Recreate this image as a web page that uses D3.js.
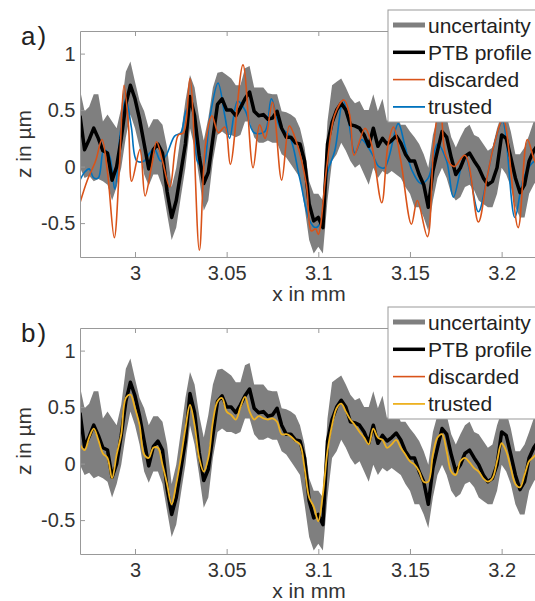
<!DOCTYPE html>
<html lang="en">
<head>
<meta charset="utf-8">
<title>PTB profile comparison</title>
<script src="https://d3js.org/d3.v7.min.js"></script>
<style>
  body { margin: 0; background: #fff; }
  svg { display: block; font-family: "Liberation Sans", Arial, sans-serif; }
  .tick text { font-size: 20px; fill: #333; }
  .axis path, .axis line { stroke: #999; }
  .lbl { font-size: 21px; fill: #333; }
  .leg { font-size: 21px; fill: #222; }
</style>
</head>
<body>
<div id="vis"></div>
<script>
// sampling grid: 2.97 .. 3.22 mm, step 0.0025 mm (101 samples)
const gridStart = 2.97, gridStep = 0.0025;

// PTB profile (z in µm)
const profile = [0.45,0.15,0.24,0.34,0.25,0.14,0.12,-0.12,0.0,0.25,0.55,0.72,0.6,0.42,0.2,-0.02,0.15,0.2,0.12,-0.22,-0.45,-0.3,-0.05,0.2,0.62,0.45,0.1,-0.15,-0.05,0.25,0.55,0.6,0.5,0.5,
  0.45,0.52,0.6,0.66,0.49,0.45,0.46,0.42,0.43,0.49,0.34,0.26,0.26,0.21,0.2,0.05,-0.33,-0.48,-0.45,-0.54,0.2,0.39,0.5,0.56,0.5,0.37,0.36,0.34,0.28,0.18,0.34,0.18,0.25,
  0.2,0.23,0.27,0.21,0.11,0.05,0.05,-0.07,-0.16,-0.36,-0.04,0.14,0.31,0.26,0.08,-0.07,-0.01,0.09,0.12,0.05,-0.01,-0.1,-0.16,-0.13,-0.01,0.28,0.25,0.08,-0.1,-0.23,-0.16,0.05,0.14,0.2];

// uncertainty band edges
const upper = [0.68,0.49,0.53,0.64,0.64,0.4,0.46,0.4,0.34,0.52,0.84,0.93,0.75,0.58,0.49,0.34,0.42,0.42,0.37,0.17,-0.18,-0.01,0.28,0.58,0.81,0.7,0.43,0.23,0.43,0.7,0.83,0.84,0.81,0.78,
  0.72,0.72,0.87,0.89,0.7,0.7,0.7,0.65,0.64,0.64,0.49,0.48,0.46,0.43,0.34,0.17,-0.13,-0.24,-0.24,-0.3,0.4,0.72,0.75,0.78,0.7,0.61,0.56,0.58,0.5,0.5,0.64,0.49,0.6,
  0.4,0.49,0.46,0.37,0.37,0.31,0.26,0.2,0.11,-0.01,0.28,0.43,0.52,0.43,0.26,0.17,0.26,0.34,0.37,0.28,0.26,0.2,0.14,0.17,0.34,0.46,0.46,0.31,0.11,0.11,0.17,0.28,0.4,0.45];
const lower = [-0.01,-0.1,-0.08,-0.13,-0.11,-0.13,-0.16,-0.3,-0.18,-0.01,0.26,0.46,0.34,0.17,-0.07,-0.17,-0.07,-0.07,-0.18,-0.42,-0.65,-0.54,-0.27,-0.01,0.34,0.17,-0.1,-0.39,-0.3,0.05,0.28,0.31,0.28,0.28,
  0.26,0.28,0.4,0.4,0.26,0.21,0.21,0.23,0.21,0.21,0.11,0.08,0.02,-0.04,-0.1,-0.36,-0.65,-0.77,-0.71,-0.77,-0.3,0.05,0.11,0.21,0.14,0.05,-0.01,0.02,-0.07,-0.16,-0.01,-0.1,-0.04,
  -0.07,-0.04,-0.07,-0.1,-0.18,-0.24,-0.36,-0.36,-0.45,-0.57,-0.3,-0.1,-0.01,-0.1,-0.24,-0.3,-0.27,-0.18,-0.16,-0.21,-0.3,-0.33,-0.36,-0.36,-0.24,-0.01,-0.07,-0.18,-0.36,-0.45,-0.45,-0.24,-0.16,-0.1];

// panel b) trusted (yellow)
const trustedB = [0.17,0.12,0.23,0.31,0.21,0.09,0.05,-0.13,0.08,0.26,0.58,0.61,0.49,0.34,0.08,0.05,0.14,0.14,-0.01,-0.18,-0.36,-0.18,0.05,0.31,0.52,0.34,0.05,-0.07,0.05,0.37,0.55,0.58,0.46,0.43,
  0.39,0.5,0.59,0.46,0.39,0.42,0.4,0.39,0.4,0.37,0.26,0.26,0.24,0.2,0.17,-0.04,-0.3,-0.38,-0.51,-0.27,0.11,0.34,0.49,0.53,0.46,0.39,0.34,0.28,0.23,0.17,0.31,0.23,0.21,
  0.14,0.17,0.21,0.14,0.08,0.02,-0.01,-0.07,-0.16,-0.16,0.08,0.23,0.26,0.11,-0.07,-0.1,0.02,0.05,0.01,-0.04,-0.07,-0.13,-0.16,-0.13,0.02,0.18,0.11,-0.04,-0.18,-0.21,-0.1,0.02,0.06,0.1];

// panel a) discarded (orange), points at turning points
const discardedX = [2.97,2.974,2.9785,2.982,2.985,2.9887,2.9915,2.994,2.9965,2.9982,3.0027,3.0055,3.009,3.0118,3.015,3.019,3.0236,3.0265,3.03,3.0351,3.0385,3.042,3.0455,3.049,3.052,
  3.0589,3.0644,3.068,3.071,3.075,3.08,3.0842,3.088,3.0935,3.0962,3.0985,3.1,3.1046,3.109,3.114,3.1171,3.1195,3.1255,3.129,3.1346,3.138,3.141,3.145,3.1508,3.154,3.1595,
  3.163,3.1665,3.1695,3.174,3.18,3.1873,3.192,3.196,3.2008,3.209,3.214,3.218,3.22];
const discardedZ = [-0.32,-0.12,0.05,0.24,-0.05,-0.63,0.0,0.72,0.35,-0.13,0.15,-0.26,0.0,0.22,0.05,-0.18,0.28,0.3,0.78,-0.74,0.2,0.45,0.3,0.35,0.02,
  0.9,-0.01,0.37,0.25,0.57,-0.12,0.36,0.22,-0.16,-0.57,-0.55,-0.6,0.0,0.46,0.59,0.46,0.1,0.34,0.2,-0.32,0.19,0.35,0.05,-0.51,-0.3,-0.62,
  0.2,0.6,0.1,0.0,0.1,-0.49,-0.1,0.2,0.42,-0.54,0.24,0.05,0.0];

// panel a) trusted (blue)
const trustedX = [2.97,2.9725,2.975,2.9775,2.98,2.983,2.986,2.989,2.992,2.995,2.998,3.001,3.005,3.008,3.0105,3.014,3.017,3.0216,3.025,3.028,3.031,3.034,3.037,3.041,3.0453,3.049,
  3.0516,3.056,3.06,3.065,3.0708,3.0744,3.079,3.084,3.0898,3.0953,3.0985,3.101,3.105,3.109,3.1135,3.1165,3.12,3.1237,3.126,3.1298,3.133,3.1362,3.1436,3.147,3.151,
  3.156,3.16,3.165,3.17,3.1737,3.18,3.1873,3.192,3.196,3.2005,3.2072,3.212,3.218,3.22];
const trustedZ = [-0.12,-0.05,-0.02,-0.1,-0.1,0.15,0.1,-0.2,0.3,0.6,0.35,0.05,0.05,0.12,0.16,0.05,0.1,0.27,0.3,0.5,0.55,0.05,0.0,0.45,0.74,0.45,
  0.25,0.58,0.5,0.3,0.31,0.6,0.35,0.28,-0.1,-0.48,-0.54,-0.5,-0.05,0.14,0.59,0.4,0.12,0.24,0.2,0.1,0.0,-0.01,0.38,0.2,-0.03,
  -0.15,-0.1,0.2,0.05,-0.27,0.09,-0.4,-0.1,0.2,0.4,-0.45,-0.1,0.05,0.05];

const xTicks = [3, 3.05, 3.1, 3.15, 3.2];
const yTicks = [-0.5, 0, 0.5, 1];
const legendNames = ["uncertainty", "PTB profile", "discarded", "trusted"];
const panelLabels = ["a)", "b)"];

const width = 535, height = 601;
const plotH = 226;
const panelTops = [31, 328];

const svg = d3.select("#vis").append("svg")
  .attr("width", width).attr("height", height);

const x = d3.scaleLinear().domain([2.97, 3.22]).range([80, 538.3]);

const grid = profile.map((d, i) => ({
  x: gridStart + i * gridStep, p: d, hi: upper[i], lo: lower[i], tb: trustedB[i]
}));
const disc = discardedX.map((d, i) => ({x: d, z: discardedZ[i]}));
const trus = trustedX.map((d, i) => ({x: d, z: trustedZ[i]}));

const colors = {band: "#7f7f7f", prof: "#000", disc: "#d95319", trustA: "#0072bd", trustB: "#edb120"};

panelTops.forEach((top, k) => {
  const bottom = top + plotH;
  const y = d3.scaleLinear().domain([-0.8, 1.2]).range([bottom, top]);
  const g = svg.append("g");

  g.append("clipPath").attr("id", "clip" + k)
    .append("rect").attr("x", 80).attr("y", top).attr("width", 460).attr("height", plotH);

  const plot = g.append("g").attr("clip-path", `url(#clip${k})`);

  plot.append("path").datum(grid)
    .attr("fill", colors.band)
    .attr("d", d3.area().x(d => x(d.x)).y0(d => y(d.lo)).y1(d => y(d.hi)));

  if (k === 0) {
    plot.append("path").datum(trus)
      .attr("fill", "none").attr("stroke", colors.trustA).attr("stroke-width", 1.6)
      .attr("d", d3.line().x(d => x(d.x)).y(d => y(d.z)).curve(d3.curveCatmullRom.alpha(0.5)));
  }

  plot.append("path").datum(grid)
    .attr("fill", "none").attr("stroke", colors.prof).attr("stroke-width", 3.5)
    .attr("stroke-linejoin", "round")
    .attr("d", d3.line().x(d => x(d.x)).y(d => y(d.p)));

  if (k === 0) {
    plot.append("path").datum(disc)
      .attr("fill", "none").attr("stroke", colors.disc).attr("stroke-width", 1.6)
      .attr("d", d3.line().x(d => x(d.x)).y(d => y(d.z)).curve(d3.curveCatmullRom.alpha(0.5)));
  } else {
    plot.append("path").datum(grid)
      .attr("fill", "none").attr("stroke", colors.trustB).attr("stroke-width", 1.8)
      .attr("d", d3.line().x(d => x(d.x)).y(d => y(d.tb)).curve(d3.curveCatmullRom.alpha(0.5)));
  }

  // axes (MATLAB style: ticks pointing inward)
  g.append("g").attr("class", "axis")
    .attr("transform", `translate(0,${bottom})`)
    .call(d3.axisBottom(x).tickValues(xTicks).tickFormat(d => String(d))
      .tickSizeInner(-5).tickSizeOuter(0).tickPadding(8.5));
  g.append("g").attr("class", "axis")
    .attr("transform", `translate(0,${top})`)
    .call(d3.axisTop(x).tickValues(xTicks).tickFormat("")
      .tickSizeInner(-5).tickSizeOuter(0));
  g.append("g").attr("class", "axis")
    .attr("transform", "translate(80,0)")
    .call(d3.axisLeft(y).tickValues(yTicks).tickFormat(d => String(d))
      .tickSizeInner(-5).tickSizeOuter(0).tickPadding(4.5));
  g.selectAll(".axis").attr("font-family", null).attr("font-size", null);

  g.append("text").attr("class", "lbl")
    .attr("x", 309).attr("y", bottom + 44)
    .attr("text-anchor", "middle").text("x in mm");

  g.append("text").attr("class", "lbl")
    .attr("transform", `translate(31,${top + 113}) rotate(-90)`)
    .attr("text-anchor", "middle").text("z in µm");

  g.append("text")
    .attr("x", 21).attr("y", top + 14)
    .attr("font-size", 26).attr("fill", "#222")
    .attr("letter-spacing", 2)
    .text(panelLabels[k]);

  // legend
  const lg = g.append("g").attr("transform", `translate(388,${top - 21})`);
  lg.append("rect").attr("width", 170).attr("height", 112)
    .attr("fill", "#fff").attr("stroke", "#999");
  const legStyle = [
    {c: colors.band, w: 5},
    {c: colors.prof, w: 3.5},
    {c: colors.disc, w: 1.6},
    {c: k === 0 ? colors.trustA : colors.trustB, w: 1.8}
  ];
  legendNames.forEach((name, j) => {
    const cy = 15 + j * 27.3;
    lg.append("line").attr("x1", 5).attr("x2", 37).attr("y1", cy).attr("y2", cy)
      .attr("stroke", legStyle[j].c).attr("stroke-width", legStyle[j].w);
    lg.append("text").attr("class", "leg")
      .attr("x", 40).attr("y", cy).attr("dy", "0.36em").text(name);
  });
});
</script>
</body>
</html>
